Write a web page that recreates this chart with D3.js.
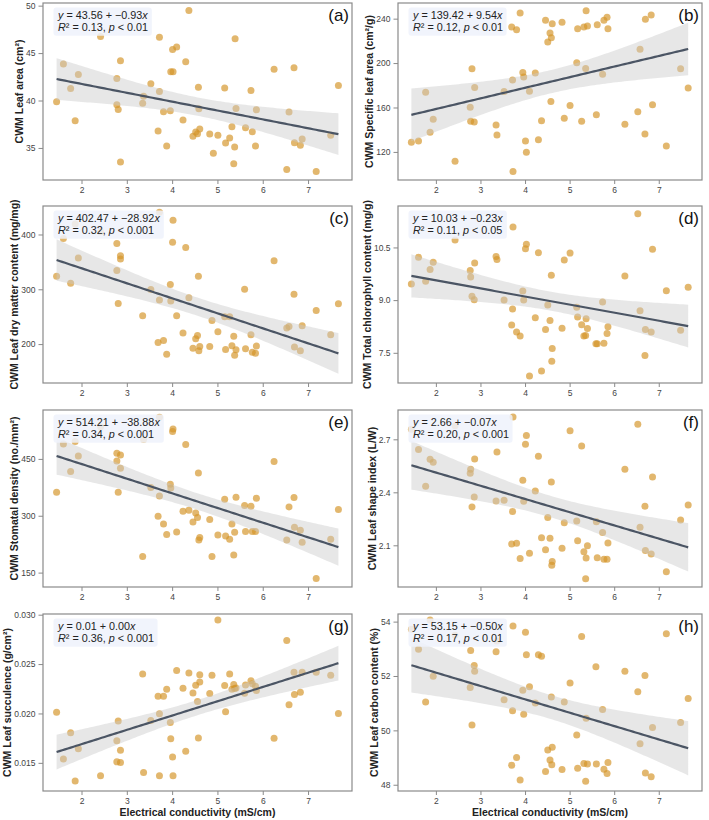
<!DOCTYPE html>
<html>
<head>
<meta charset="utf-8">
<script src="https://cdn.jsdelivr.net/npm/d3@7"></script>
<style>
    body { margin: 0; background: #fff; }
    svg { font-family: "Liberation Sans", Arial, sans-serif; }
</style>
</head>
<body>
<svg id="chart" width="709" height="820"></svg>
<script>

// values, one [conductivity, trait] pair per site
const leafArea = [[1.45,39.88],[1.60,43.85],[1.76,41.26],[1.86,37.87],[1.93,42.73],[2.42,46.75],[2.78,42.31],[2.78,39.55],[2.81,39.06],[2.86,44.20],[2.86,33.53],[3.35,39.72],[3.37,40.45],[3.53,41.78],[3.69,36.78],[3.72,46.68],[3.72,40.94],[3.81,38.81],[3.88,35.21],[3.96,38.92],[3.97,43.04],[4.02,43.04],[4.01,45.38],[4.10,45.63],[4.24,37.94],[4.30,44.09],[4.37,49.48],[4.46,36.22],[4.52,36.68],[4.56,36.50],[4.61,36.99],[4.58,41.40],[4.59,39.13],[4.83,36.47],[4.91,34.44],[5.01,36.33],[5.16,41.33],[5.18,35.52],[5.27,36.05],[5.32,37.24],[5.36,33.32],[5.38,35.10],[5.41,39.16],[5.39,46.50],[5.62,37.13],[5.74,41.05],[5.77,36.71],[5.84,35.21],[5.86,39.02],[6.25,43.29],[6.53,32.73],[6.58,38.78],[6.69,43.46],[6.70,35.56],[6.83,35.28],[6.87,35.94],[7.18,32.52],[7.50,36.33],[7.67,41.57]]

const specificLeafArea = [[1.45,128.7],[1.61,129.9],[1.77,173.7],[1.87,137.6],[1.94,149.3],[2.43,111.6],[2.77,160.3],[2.78,147.5],[2.81,194.9],[2.86,146.9],[2.87,177.9],[3.35,144.2],[3.37,135.2],[3.53,174.3],[3.70,232.5],[3.72,184.8],[3.73,102.4],[3.81,230.1],[3.89,245.1],[3.95,191.6],[3.97,187.5],[4.01,129.9],[4.03,119.7],[4.10,174.6],[4.23,191.0],[4.30,131.0],[4.37,148.0],[4.46,238.5],[4.51,219.0],[4.56,227.0],[4.59,222.7],[4.61,235.5],[4.58,165.4],[4.83,236.7],[4.88,150.2],[5.01,161.8],[5.16,200.3],[5.18,231.0],[5.27,147.5],[5.32,232.5],[5.37,247.2],[5.36,195.2],[5.40,233.4],[5.60,153.4],[5.62,234.6],[5.74,189.9],[5.77,238.5],[5.84,241.2],[5.86,231.0],[6.24,145.0],[6.53,156.1],[6.58,212.5],[6.69,136.1],[6.70,239.4],[6.83,243.3],[6.86,162.4],[7.17,125.4],[7.49,194.9],[7.66,177.6]]

const dryMatter = [[1.45,323.9],[1.60,392.6],[1.76,311.0],[1.86,419.0],[1.93,357.1],[2.42,405.0],[2.78,334.4],[2.78,383.4],[2.81,274.2],[2.86,361.3],[2.86,355.2],[3.35,251.5],[3.53,299.4],[3.69,203.1],[3.72,440.5],[3.72,280.4],[3.81,206.7],[3.88,181.6],[3.96,308.6],[3.97,278.5],[4.02,425.8],[4.01,385.9],[4.10,251.5],[4.24,220.2],[4.30,376.1],[4.37,284.7],[4.46,192.6],[4.52,209.8],[4.56,215.9],[4.61,195.7],[4.58,323.9],[4.59,187.7],[4.83,195.7],[4.88,242.9],[5.01,222.7],[5.16,249.7],[5.18,190.2],[5.27,249.7],[5.32,196.9],[5.36,214.1],[5.38,179.8],[5.41,189.6],[5.60,300.0],[5.62,191.4],[5.74,217.2],[5.77,185.3],[5.84,183.4],[5.86,196.3],[6.25,352.1],[6.53,229.4],[6.58,231.9],[6.69,290.8],[6.70,194.5],[6.83,187.7],[6.87,233.7],[7.18,261.3],[7.50,217.2],[7.67,273.6]]

const chlorophyll = [[1.45,9.46],[1.61,10.22],[1.77,9.54],[1.87,9.87],[1.94,10.08],[2.43,10.71],[2.77,9.84],[2.78,9.66],[2.81,9.11],[2.86,9.01],[2.87,10.06],[3.35,10.24],[3.37,10.16],[3.53,9.00],[3.70,8.29],[3.72,8.75],[3.73,11.08],[3.81,8.09],[3.89,7.98],[3.95,9.26],[3.97,9.00],[4.01,10.46],[4.03,10.59],[4.10,6.84],[4.23,8.50],[4.30,10.35],[4.37,6.98],[4.46,8.16],[4.51,8.86],[4.56,8.42],[4.59,9.71],[4.61,7.62],[4.60,7.26],[4.83,8.20],[4.88,10.14],[5.01,10.34],[5.16,8.80],[5.18,8.52],[5.27,8.30],[5.32,7.98],[5.37,8.47],[5.36,7.99],[5.40,8.19],[5.59,7.76],[5.62,7.76],[5.74,8.95],[5.77,7.77],[5.84,8.05],[5.86,8.24],[6.24,9.69],[6.53,11.46],[6.58,8.70],[6.69,7.42],[6.70,8.16],[6.83,8.09],[6.86,10.45],[7.17,9.27],[7.49,8.14],[7.66,9.37]]

const stomatal = [[1.45,362],[1.60,489.6],[1.76,416.6],[1.86,495.7],[1.93,457.9],[2.42,535],[2.78,444.7],[2.78,465],[2.81,362],[2.86,460.6],[2.86,425.4],[3.35,192.3],[3.37,501],[3.53,374.4],[3.69,298.7],[3.72,560],[3.72,352.4],[3.81,278.5],[3.88,250.4],[3.96,383.2],[3.97,373.5],[4.02,529],[4.01,522],[4.10,257.4],[4.24,312],[4.30,487.8],[4.37,314.6],[4.46,283.8],[4.52,307.5],[4.56,295.2],[4.61,242.4],[4.58,413],[4.59,236.3],[4.83,290],[4.88,192.3],[5.01,249.5],[5.16,343.6],[5.18,246.8],[5.27,238],[5.32,278.5],[5.36,196.7],[5.38,256.5],[5.41,348.9],[5.60,326.9],[5.62,258.3],[5.74,325.1],[5.77,258.3],[5.84,258.3],[5.86,346.2],[6.25,443],[6.53,236.3],[6.58,323.4],[6.69,348],[6.70,269.7],[6.83,261.8],[6.87,230.1],[7.18,134.3],[7.50,238],[7.67,316.3]]

const shapeIndex = [[1.45,2.757],[1.61,2.642],[1.77,2.434],[1.87,2.587],[1.94,2.570],[2.43,2.777],[2.77,2.508],[2.78,2.530],[2.81,2.317],[2.86,2.374],[2.87,2.589],[3.35,2.351],[3.37,2.628],[3.53,2.355],[3.70,2.108],[3.72,2.292],[3.73,2.826],[3.81,2.111],[3.89,2.025],[3.95,2.468],[3.97,2.349],[4.01,2.672],[4.03,2.721],[4.10,2.055],[4.23,2.408],[4.30,2.604],[4.37,2.143],[4.46,2.075],[4.51,2.258],[4.56,2.140],[4.59,2.458],[4.61,2.008],[4.60,1.987],[4.83,2.083],[4.88,2.228],[5.01,2.749],[5.16,2.238],[5.18,2.126],[5.27,2.662],[5.32,2.064],[5.37,2.028],[5.36,1.911],[5.40,2.098],[5.60,2.234],[5.62,2.030],[5.74,2.172],[5.77,2.021],[5.84,2.021],[5.86,2.113],[6.24,2.530],[6.53,2.785],[6.58,2.202],[6.69,2.321],[6.70,2.070],[6.83,2.051],[6.86,2.487],[7.17,1.951],[7.49,2.243],[7.66,2.328]]

const succulence = [[1.45,0.02013],[1.60,0.01540],[1.76,0.01805],[1.86,0.01316],[1.93,0.01644],[2.42,0.01369],[2.78,0.01725],[2.78,0.01510],[2.81,0.01923],[2.86,0.01628],[2.86,0.01503],[3.35,0.02399],[3.37,0.01403],[3.53,0.01930],[3.69,0.02174],[3.72,0.01997],[3.72,0.01369],[3.81,0.02174],[3.88,0.02245],[3.96,0.01909],[3.97,0.01745],[4.02,0.01369],[4.01,0.01560],[4.10,0.02436],[4.24,0.02255],[4.30,0.01617],[4.37,0.02409],[4.46,0.02208],[4.52,0.02285],[4.56,0.02121],[4.61,0.02393],[4.61,0.02319],[4.58,0.01752],[4.83,0.02201],[4.88,0.02386],[5.01,0.02946],[5.16,0.02282],[5.18,0.02017],[5.27,0.02399],[5.32,0.02245],[5.36,0.02292],[5.38,0.02252],[5.41,0.02258],[5.60,0.02205],[5.62,0.02289],[5.74,0.02332],[5.77,0.02302],[5.84,0.02275],[5.86,0.02232],[6.25,0.01748],[6.53,0.02738],[6.58,0.02087],[6.69,0.02416],[6.70,0.02191],[6.83,0.02215],[6.87,0.02416],[7.18,0.02416],[7.50,0.02386],[7.67,0.02000]]

const carbon = [[1.45,53.72],[1.61,52.98],[1.77,51.04],[1.87,54.06],[1.94,51.99],[2.43,53.50],[2.77,51.58],[2.78,52.94],[2.81,50.20],[2.86,52.39],[2.87,52.17],[3.35,52.89],[3.37,53.29],[3.53,51.13],[3.70,48.72],[3.72,50.72],[3.73,53.84],[3.81,49.00],[3.89,48.17],[3.95,51.48],[3.97,50.59],[4.01,53.61],[4.03,52.78],[4.10,51.60],[4.23,51.01],[4.30,52.78],[4.37,52.73],[4.46,48.49],[4.51,49.28],[4.56,48.91],[4.59,51.23],[4.61,49.38],[4.60,48.74],[4.83,48.56],[4.88,51.04],[5.01,51.74],[5.16,49.83],[5.18,48.61],[5.27,53.45],[5.32,48.78],[5.37,50.45],[5.36,48.13],[5.40,48.76],[5.60,48.76],[5.59,52.34],[5.74,50.77],[5.77,48.57],[5.84,48.41],[5.86,48.82],[6.24,52.17],[6.53,51.42],[6.58,49.51],[6.69,52.02],[6.70,48.43],[6.83,48.29],[6.86,50.11],[7.17,53.55],[7.49,50.29],[7.66,51.17]]

const xTickValues = [2, 3, 4, 5, 6, 7]
const xTitle = 'Electrical conductivity (mS/cm)'

const panelLetters = ['(a)', '(b)', '(c)', '(d)', '(e)', '(f)', '(g)', '(h)']
const yTitles = ['CWM Leaf area (cm²)', 'CWM Specific leaf area (cm²/g)', 'CWM Leaf dry matter content (mg/mg)',
    'CWM Total chlorophyll content (mg/g)', 'CWM Stomatal density (no./mm²)', 'CWM Leaf shape index (L/W)',
    'CWM Leaf succulence (g/cm²)', 'CWM Leaf carbon content (%)']
const yTickValues = [[35, 40, 45, 50], [120, 160, 200, 240], [200, 300, 400], [7.5, 9.0, 10.5],
    [150, 300, 450], [2.1, 2.4, 2.7], [0.015, 0.020, 0.025, 0.030], [48, 50, 52, 54]]
const yTickFormats = ['d', 'd', 'd', '.1f', 'd', '.1f', '.3f', 'd']
const yDomains = [[31.62, 50.28], [94.7, 254.1], [129, 452], [6.64, 11.68],
    [112, 579], [1.864, 2.866], [0.01215, 0.03007], [47.77, 54.28]]
const eqIntercepts = ['43.56', '139.42', '402.47', '10.03', '514.21', '2.66', '0.01', '53.15']
const eqSlopes = ['−0.93', '9.54', '−28.92', '−0.23', '−38.88', '−0.07', '0.00', '−0.50']
const eqR2 = ['0.13', '0.12', '0.32', '0.11', '0.34', '0.20', '0.36', '0.17']
const eqP = ['< 0.01', '< 0.01', '< 0.001', '< 0.05', '< 0.001', '< 0.001', '< 0.001', '< 0.01']

const series = [leafArea, specificLeafArea, dryMatter, chlorophyll, stomatal, shapeIndex, succulence, carbon]


const svg = d3.select('#chart')

const colX = [[43, 352], [398, 702]]
const rowTop = [3, 206, 410, 614]
const panelH = 177
const xDomain = [1.15, 7.97]

const pointColor = '#d4952a'
const lineColor = '#4b5564'
const frameColor = '#8a8a8a'


// ordinary least squares + 95% band for the mean
function fitLine(data) {
    const n = data.length
    const mx = d3.mean(data, d => d[0])
    const my = d3.mean(data, d => d[1])
    const sxx = d3.sum(data, d => (d[0] - mx) ** 2)
    const sxy = d3.sum(data, d => (d[0] - mx) * (d[1] - my))
    const slope = sxy / sxx
    const icpt = my - slope * mx
    const sse = d3.sum(data, d => (d[1] - icpt - slope * d[0]) ** 2)
    const s = Math.sqrt(sse / (n - 2))
    const t = 2.002
    const xs = d3.extent(data, d => d[0])
    const grid = d3.range(0, 101).map(i => xs[0] + (xs[1] - xs[0]) * i / 100)
    return grid.map(x => {
        const yhat = icpt + slope * x
        const half = t * s * Math.sqrt(1 / n + (x - mx) ** 2 / sxx)
        return { x: x, y: yhat, lo: yhat - half, hi: yhat + half }
    })
}


function drawPanel(i) {
    const col = i % 2
    const row = Math.floor(i / 2)
    const x0 = colX[col][0], x1 = colX[col][1]
    const top = rowTop[row]
    const data = series[i]

    const xScale = d3.scaleLinear().domain(xDomain).range([x0, x1])
    const yScale = d3.scaleLinear().domain(yDomains[i]).range([top + panelH, top])

    const g = svg.append('g').attr('class', 'panel')

    // axes
    const xAxis = d3.axisBottom(xScale).tickValues(xTickValues).tickSize(4).tickPadding(2.5).tickFormat(d3.format('d'))
    const yAxis = d3.axisLeft(yScale).tickValues(yTickValues[i]).tickSize(4.5).tickPadding(3).tickFormat(d3.format(yTickFormats[i]))

    const gx = g.append('g').attr('transform', 'translate(0,' + (top + panelH) + ')').call(xAxis)
    const gy = g.append('g').attr('transform', 'translate(' + x0 + ',0)').call(yAxis)

    for (const ax of [gx, gy]) {
        ax.select('.domain').remove()
        ax.selectAll('line').attr('stroke', frameColor).attr('stroke-width', 1)
        ax.selectAll('text').attr('fill', '#444').style('font-size', '8.5px')
            .style('font-family', '"Liberation Sans", Arial, sans-serif')
    }

    // points
    g.append('g').selectAll('circle')
        .data(data)
        .enter()
        .append('circle')
        .attr('cx', d => xScale(d[0]))
        .attr('cy', d => yScale(d[1]))
        .attr('r', 3.5)
        .attr('fill', pointColor)
        .attr('fill-opacity', 0.68)

    // regression line and band
    const fit = fitLine(data)

    g.append('path')
        .datum(fit)
        .attr('d', d3.area().x(d => xScale(d.x)).y0(d => yScale(d.lo)).y1(d => yScale(d.hi)))
        .attr('fill', '#c9c9c9')
        .attr('fill-opacity', 0.45)

    g.append('path')
        .datum(fit)
        .attr('d', d3.line().x(d => xScale(d.x)).y(d => yScale(d.y)))
        .attr('fill', 'none')
        .attr('stroke', lineColor)
        .attr('stroke-width', 2.2)

    // frame
    g.append('rect')
        .attr('x', x0).attr('y', top)
        .attr('width', x1 - x0).attr('height', panelH)
        .attr('fill', 'none')
        .attr('stroke', frameColor)
        .attr('stroke-width', 1.2)

    // equation box
    const box = g.append('g')
    const label = box.append('g')
    const t1 = label.append('text')
        .attr('x', x0 + 15).attr('y', top + 16)
        .style('font-size', '10.8px').attr('fill', '#222')
    t1.append('tspan').style('font-style', 'italic').text('y')
    t1.append('tspan').text(' = ' + eqIntercepts[i] + ' + ' + eqSlopes[i])
    t1.append('tspan').style('font-style', 'italic').text('x')

    const t2 = label.append('text')
        .attr('x', x0 + 15).attr('y', top + 27.7)
        .style('font-size', '10.8px').attr('fill', '#222')
    t2.append('tspan').style('font-style', 'italic').text('R')
    t2.append('tspan').text('² = ' + eqR2[i] + ', ')
    t2.append('tspan').style('font-style', 'italic').text('p')
    t2.append('tspan').text(' ' + eqP[i])

    const bb = label.node().getBBox()
    box.insert('rect', 'g')
        .attr('x', bb.x - 3.5).attr('y', bb.y - 1.5)
        .attr('width', bb.width + 7).attr('height', bb.height + 4.5)
        .attr('rx', 3)
        .attr('fill', '#eef2fb')
        .attr('fill-opacity', 0.85)

    // panel letter
    g.append('text')
        .attr('x', x1 - 3).attr('y', top + 18)
        .attr('text-anchor', 'end')
        .style('font-size', '17px')
        .attr('fill', '#111')
        .text(panelLetters[i])

    // y title sits just left of the widest tick label
    const tickLeft = x0 + gy.node().getBBox().x
    const yMid = top + panelH / 2
    g.append('text')
        .attr('transform', 'translate(' + (tickLeft - 3) + ',' + yMid + ') rotate(-90)')
        .attr('text-anchor', 'middle')
        .style('font-size', '10.5px')
        .style('font-weight', 'bold')
        .attr('fill', '#222')
        .text(yTitles[i])

    // x title only on bottom row
    if (row === 3) {
        g.append('text')
            .attr('x', (x0 + x1) / 2).attr('y', 816)
            .attr('text-anchor', 'middle')
            .style('font-size', '10.5px')
            .style('font-weight', 'bold')
            .attr('fill', '#222')
            .text(xTitle)
    }
}

d3.range(8).forEach(drawPanel)

</script>
</body>
</html>
